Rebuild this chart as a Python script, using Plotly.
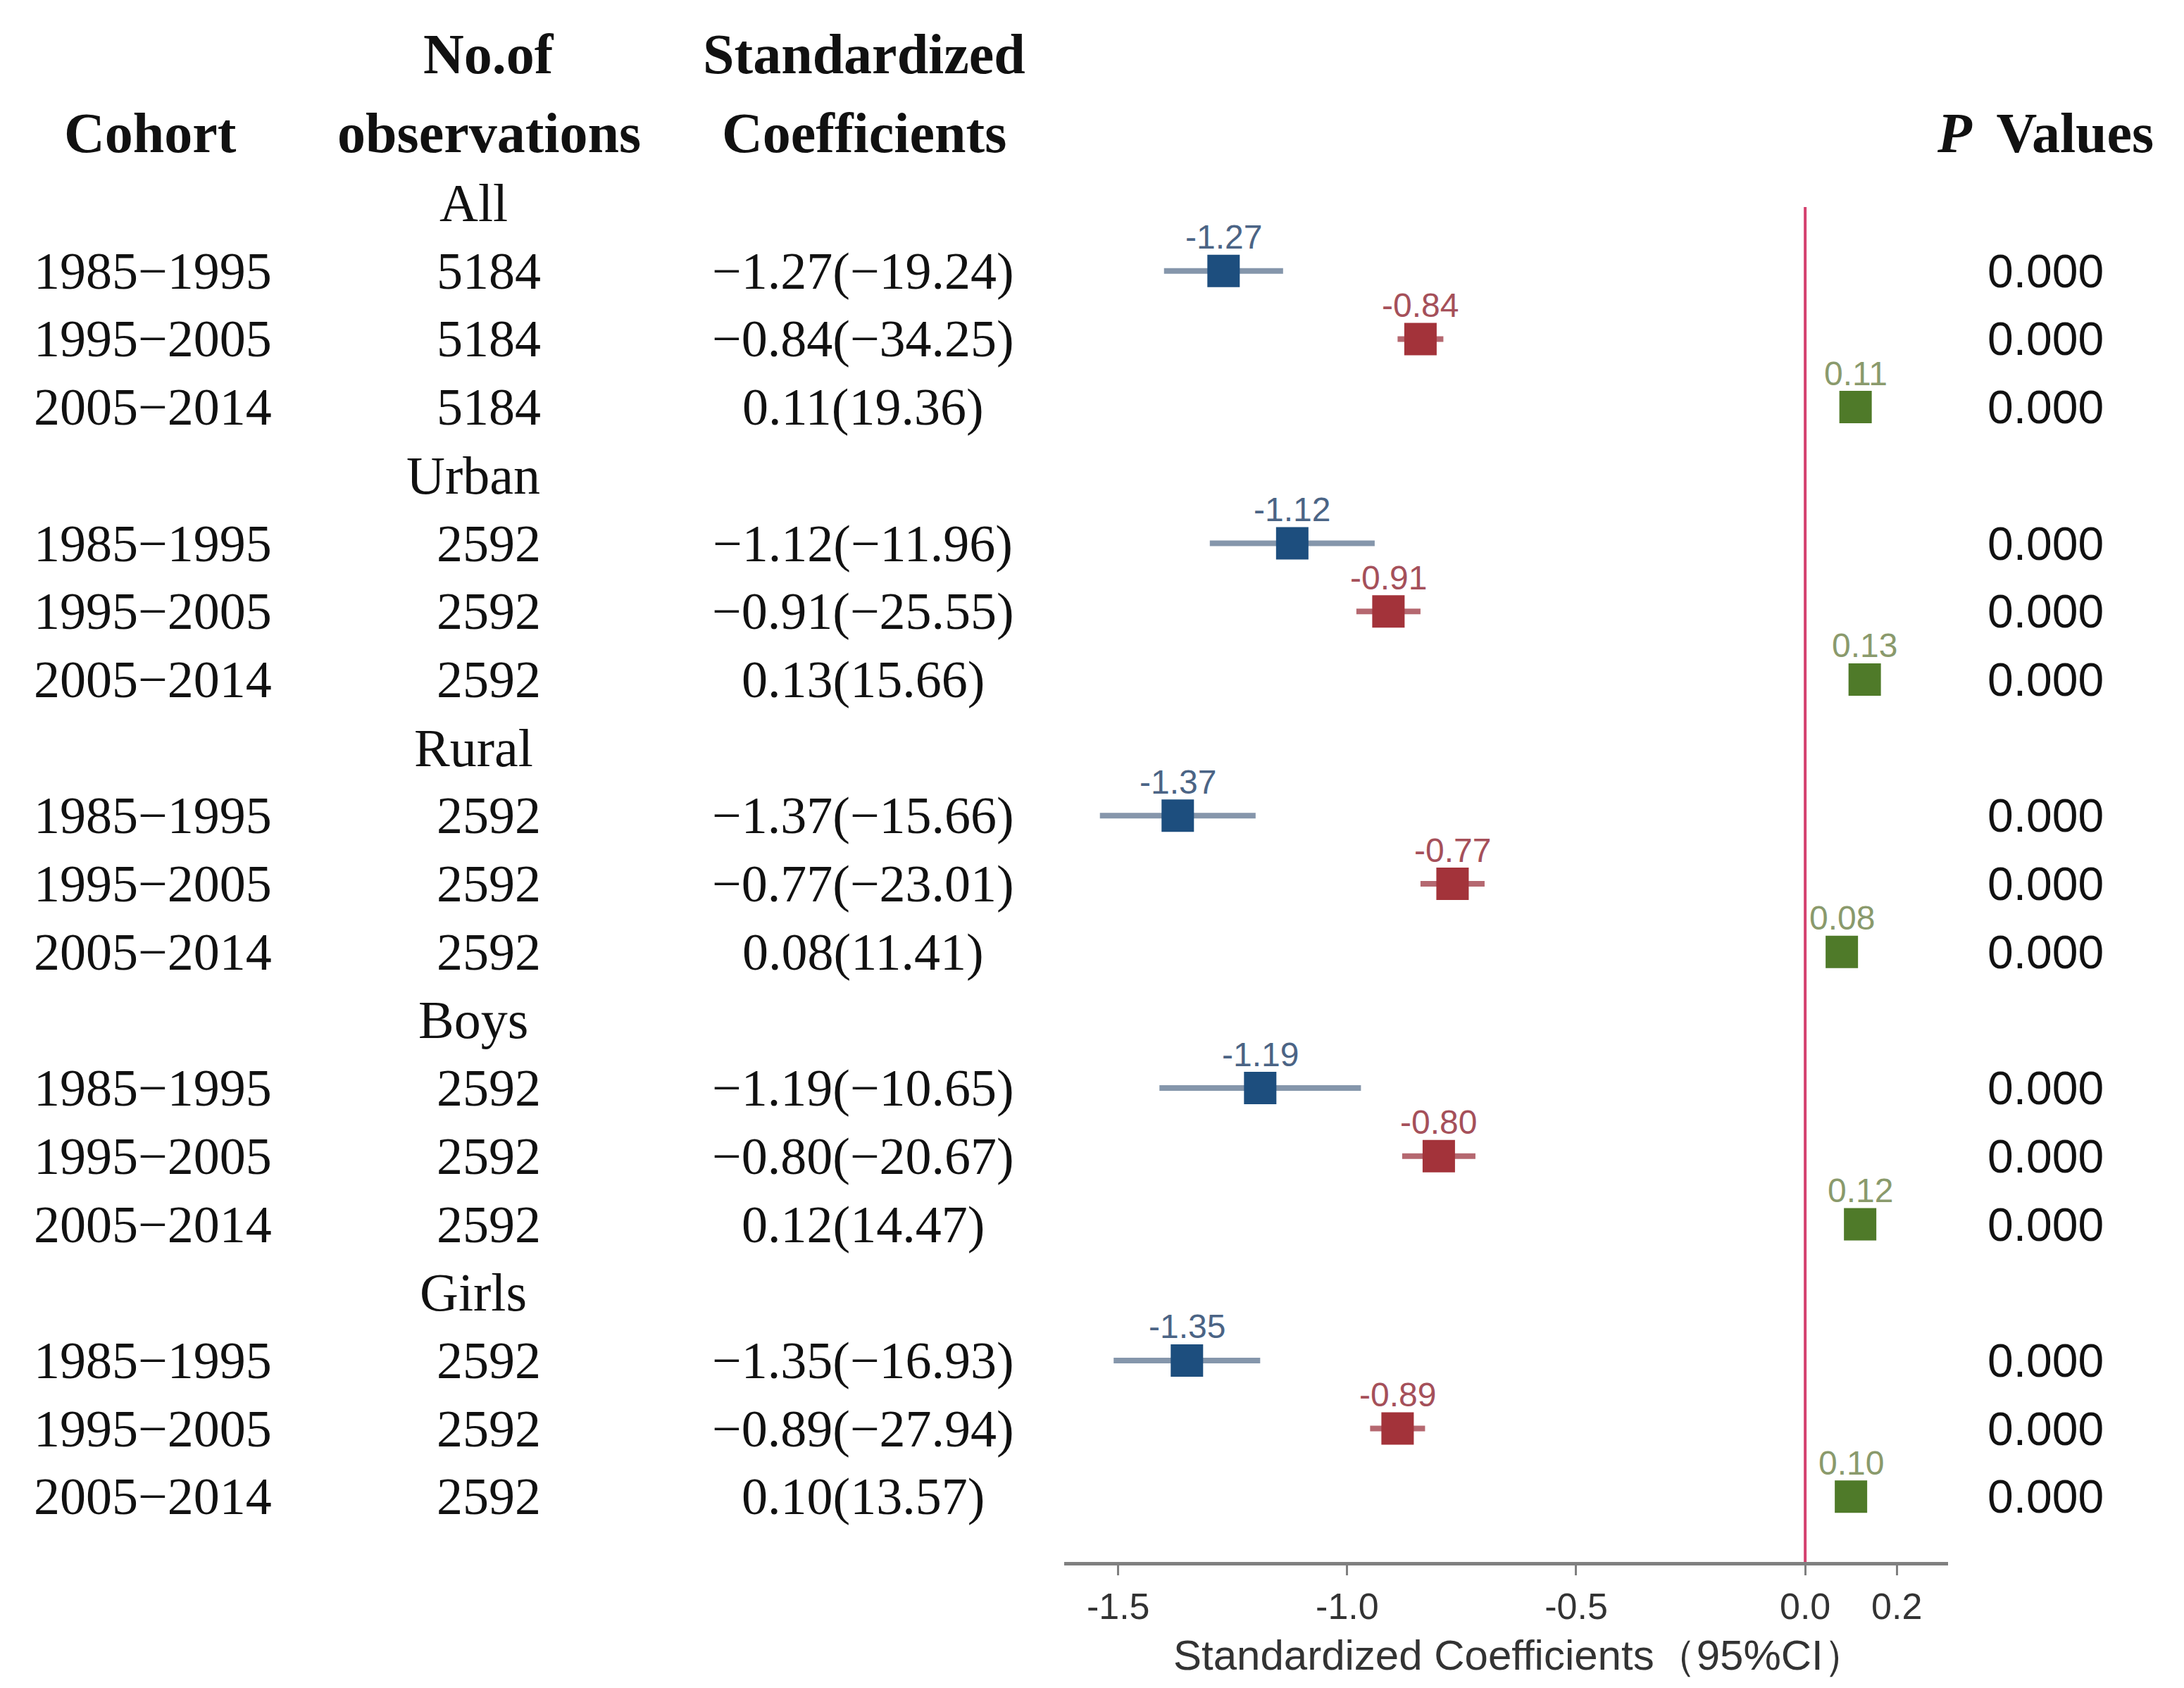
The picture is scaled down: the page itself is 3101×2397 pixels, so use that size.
import plotly.graph_objects as go

# ---------------- data ----------------
groups = ["All", "Urban", "Rural", "Boys", "Girls"]
cohorts = ["1985\u22121995", "1995\u22122005", "2005\u22122014"]
n_obs = [5184, 5184, 5184,
         2592, 2592, 2592,
         2592, 2592, 2592,
         2592, 2592, 2592,
         2592, 2592, 2592]
coef = [-1.27, -0.84, 0.11,
        -1.12, -0.91, 0.13,
        -1.37, -0.77, 0.08,
        -1.19, -0.80, 0.12,
        -1.35, -0.89, 0.10]
t_vals = [-19.24, -34.25, 19.36,
          -11.96, -25.55, 15.66,
          -15.66, -23.01, 11.41,
          -10.65, -20.67, 14.47,
          -16.93, -27.94, 13.57]
ci_low = [-1.40, -0.89, 0.10,
          -1.30, -0.98, 0.11,
          -1.54, -0.84, 0.07,
          -1.41, -0.88, 0.10,
          -1.51, -0.95, 0.09]
ci_high = [-1.14, -0.79, 0.12,
           -0.94, -0.84, 0.15,
           -1.20, -0.70, 0.09,
           -0.97, -0.72, 0.14,
           -1.19, -0.83, 0.11]
p_vals = ["0.000"] * 15
tick_vals = [-1.5, -1.0, -0.5, 0.0, 0.2]
tick_text = ["-1.5", "-1.0", "-0.5", "0.0", "0.2"]
x_title = "Standardized Coefficients\uff0895%CI\uff09"

# ---------------- style ----------------
W, H = 3101, 2397
PL, PR, PT, PB = 1503, 2758, 286, 2210
marker_colors = ["#1d4e7e", "#a3333a", "#4f7a29"]
whisker_colors = ["#8596ab", "#b56870", "#7f9a60"]
label_colors = ["#4b6485", "#a5505a", "#8a9a6c"]
SERIF = "Liberation Serif, Times New Roman, serif"
SANS = "Liberation Sans, Arial, sans-serif"
ROW0_PX, ROW_STEP = 280.0, 96.7


def px2row(p):
    return (p - ROW0_PX) / ROW_STEP


def px2px(x):
    return x / W


def py2paper(p):
    return (PB - p) / (PB - PT)


fig = go.Figure()
ann = []

for j in range(3):
    idx = [k * 3 + j for k in range(len(groups))]
    xs = [coef[i] for i in idx]
    ys = [4 * k + 1 + j for k in range(len(groups))]
    plus = [ci_high[i] - coef[i] for i in idx]
    minus = [coef[i] - ci_low[i] for i in idx]
    fig.add_trace(go.Scatter(
        x=xs, y=ys, mode="markers",
        marker=dict(symbol="square", size=46, color=marker_colors[j],
                    line=dict(width=0)),
        error_x=dict(type="data", symmetric=False, array=plus,
                     arrayminus=minus, color=whisker_colors[j],
                     thickness=8, width=0),
        showlegend=False, hoverinfo="skip", cliponaxis=False,
    ))
    for xv, yv in zip(xs, ys):
        ann.append(dict(x=xv, y=yv, xref="x", yref="y", text=f"{xv:.2f}",
                        showarrow=False, yshift=48,
                        font=dict(family=SANS, size=48, color=label_colors[j]),
                        xanchor="center", yanchor="middle"))

# reference line at 0
fig.add_shape(type="line", xref="x", yref="paper", x0=0, x1=0, y0=0, y1=1,
              line=dict(color="#d4416f", width=4), layer="below")

# column headers
hdr_font = dict(family=SERIF, size=80, color="#111111")
for txt, xp, yp in [
    ("<b>No.of</b>", 686, 69), ("<b>Standardized</b>", 1219, 69),
    ("<b>Cohort</b>", 205, 181), ("<b>observations</b>", 686, 181),
    ("<b>Coefficients</b>", 1219, 181),
    ("<b><i>P</i>\u2009 Values</b>", 2896, 181),
]:
    ann.append(dict(x=px2px(xp), y=py2paper(yp), xref="paper", yref="paper",
                    text=txt, showarrow=False, font=hdr_font,
                    xanchor="center", yanchor="middle"))

body_font = dict(family=SERIF, size=74, color="#111111")
grp_font = dict(family=SERIF, size=76, color="#111111")
p_font = dict(family=SANS, size=66, color="#111111")
for k, g in enumerate(groups):
    ann.append(dict(x=px2px(664), y=py2paper(ROW0_PX + 4 * k * ROW_STEP),
                    xref="paper", yref="paper", text=g,
                    showarrow=False, font=grp_font,
                    xanchor="center", yanchor="middle"))
    for j, c in enumerate(cohorts):
        i = k * 3 + j
        r = 4 * k + 1 + j
        coef_txt = f"{coef[i]:.2f}({t_vals[i]:.2f})".replace("-", "\u2212")
        for txt, xp, fnt in [(c, 209, body_font), (str(n_obs[i]), 686, body_font),
                             (coef_txt, 1217, body_font), (p_vals[i], 2896, p_font)]:
            ann.append(dict(x=px2px(xp), y=r, xref="paper", yref="y",
                            text=txt, showarrow=False, font=fnt,
                            xanchor="center", yanchor="middle"))

# x-axis title
ann.append(dict(x=px2px(2149), y=py2paper(2342), xref="paper", yref="paper",
                text=x_title, showarrow=False,
                font=dict(family=SANS, size=60, color="#333333"),
                xanchor="center", yanchor="middle"))

fig.update_layout(
    width=W, height=H,
    margin=dict(l=0, r=0, t=PT, b=H - PB, pad=0),
    paper_bgcolor="white", plot_bgcolor="white",
    annotations=ann,
    xaxis=dict(domain=[px2px(PL), px2px(PR)], range=[-1.618, 0.312],
               tickvals=tick_vals, ticktext=tick_text,
               showgrid=False, zeroline=False,
               showline=True, linecolor="#808080", linewidth=5,
               ticks="outside", ticklen=14, tickwidth=3, tickcolor="#808080",
               tickfont=dict(family=SANS, size=52, color="#333333"),
               automargin=False, fixedrange=True),
    yaxis=dict(range=[px2row(PB), px2row(PT)], visible=False,
               showgrid=False, zeroline=False, automargin=False, fixedrange=True),
)

fig.write_html("out.html")
